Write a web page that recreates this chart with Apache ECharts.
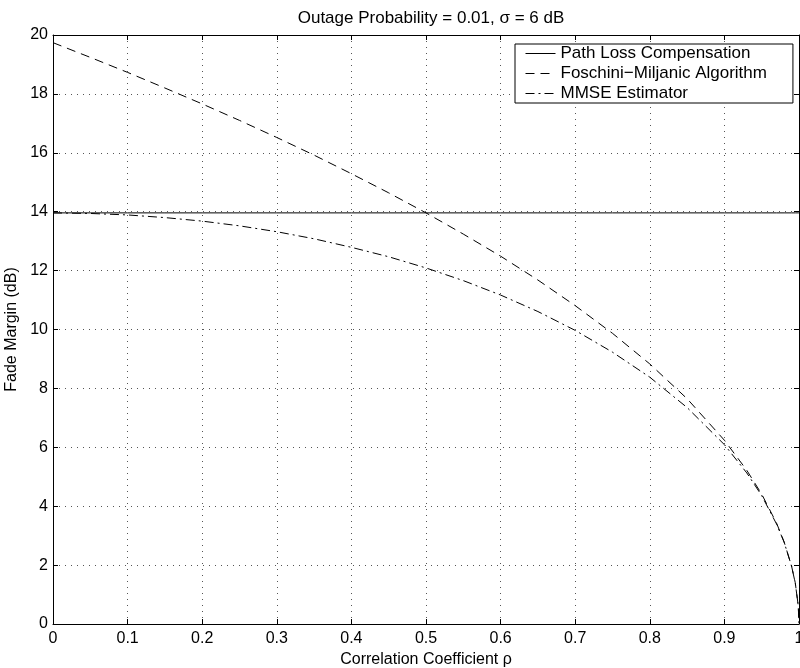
<!DOCTYPE html>
<html>
<head>
<meta charset="UTF-8">
<title>Fade Margin vs Correlation</title>
<script src="https://cdn.jsdelivr.net/npm/echarts@6/dist/echarts.min.js"></script>
<style>
  html, body { margin: 0; padding: 0; background: #fff; }
  #chart { width: 800px; height: 668px; }
</style>
</head>
<body>
<div id="chart"></div>
<script>
// correlation coefficient samples (x)
var rho = [0, 0.05, 0.1, 0.15, 0.2, 0.25, 0.3, 0.35, 0.4, 0.45, 0.5, 0.55, 0.6, 0.65,
           0.7, 0.75, 0.8, 0.85, 0.9, 0.93, 0.95, 0.97, 0.98, 0.99, 0.995, 0.999, 1];
// fade margin values (dB)
var pathLoss = [13.96, 13.96, 13.96, 13.96, 13.96, 13.96, 13.96, 13.96, 13.96, 13.96, 13.96, 13.96, 13.96, 13.96,
                13.96, 13.96, 13.96, 13.96, 13.96, 13.96, 13.96, 13.96, 13.96, 13.96, 13.96, 13.96, 13.96];
var foschini = [19.74, 19.24, 18.73, 18.20, 17.66, 17.10, 16.52, 15.92, 15.29, 14.64, 13.96, 13.24, 12.49, 11.68,
                10.81, 9.87, 8.83, 7.65, 6.24, 5.22, 4.41, 3.42, 2.79, 1.97, 1.40, 0.62, 0];
var mmse = [13.96, 13.94, 13.89, 13.80, 13.68, 13.52, 13.32, 13.08, 12.79, 12.47, 12.09, 11.66, 11.17, 10.61,
            9.97, 9.23, 8.38, 7.35, 6.09, 5.13, 4.36, 3.39, 2.78, 1.97, 1.39, 0.62, 0];
var seriesNames = ['Path Loss Compensation', 'Foschini\u2212Miljanic Algorithm', 'MMSE Estimator'];

var dashed = [9, 6];
var dashDot = [9, 4, 2, 4];

function pairs(ys) {
    var out = [];
    for (var i = 0; i < rho.length; i++) out.push([rho[i], ys[i]]);
    return out;
}

var font = 'Liberation Sans, Arial, Helvetica, sans-serif';
var gridLine = { show: true, lineStyle: { color: '#555', width: 1, type: [1, 5] } };

function xAx(pos, main) {
    return {
        type: 'value', position: pos, min: 0, max: 1, interval: 0.1,
        name: main ? 'Correlation Coefficient \u03c1' : '',
        nameLocation: 'middle', nameGap: 25,
        nameTextStyle: { color: '#000', fontSize: 16, fontFamily: font },
        axisLine: { show: true, onZero: false, lineStyle: { color: '#000', width: 1 } },
        axisTick: { show: true, inside: true, length: 5, lineStyle: { color: '#000' } },
        axisLabel: { show: main, color: '#000', fontSize: 16, fontFamily: font, margin: 7,
                     formatter: function (v) { return String(+v.toFixed(1)); } },
        splitLine: main ? gridLine : { show: false }
    };
}
function yAx(pos, main) {
    return {
        type: 'value', position: pos, min: 0, max: 20, interval: 2,
        name: main ? 'Fade Margin (dB)' : '',
        nameLocation: 'middle', nameGap: 30,
        nameTextStyle: { color: '#000', fontSize: 16, fontFamily: font },
        axisLine: { show: true, onZero: false, lineStyle: { color: '#000', width: 1 } },
        axisTick: { show: true, inside: true, length: 5, lineStyle: { color: '#000' } },
        axisLabel: { show: main, color: '#000', fontSize: 16, fontFamily: font, margin: 5 },
        splitLine: main ? gridLine : { show: false }
    };
}

var chart = echarts.init(document.getElementById('chart'));
var option = {
    animation: false,
    backgroundColor: '#fff',
    title: {
        text: 'Outage Probability = 0.01, \u03c3 = 6 dB',
        left: 426, textAlign: 'center', top: 5,
        textStyle: { color: '#000', fontSize: 17, fontWeight: 'normal', fontFamily: font }
    },
    grid: { left: 53, right: 1, top: 35, bottom: 44, containLabel: false, outerBoundsMode: 'none' },
    legend: {
        orient: 'vertical', left: 515, top: 44,
        padding: [1, 26, 1, 10], itemGap: 3, itemWidth: 30, itemHeight: 14,
        borderColor: '#000', borderWidth: 1, backgroundColor: '#fff',
        itemStyle: { opacity: 0 },
        textStyle: { color: '#000', fontSize: 17, fontFamily: font },
        data: [
            { name: seriesNames[0], lineStyle: { type: 'solid', width: 1 } },
            { name: seriesNames[1], lineStyle: { type: dashed, width: 1 } },
            { name: seriesNames[2], lineStyle: { type: dashDot, width: 1 } }
        ]
    },
    xAxis: [xAx('bottom', true), xAx('top', false)],
    yAxis: [yAx('left', true), yAx('right', false)],
    series: [
        { name: seriesNames[0], type: 'line', data: pairs(pathLoss), symbol: 'none',
          lineStyle: { color: '#000', width: 1, type: 'solid' }, itemStyle: { color: '#000' } },
        { name: seriesNames[1], type: 'line', data: pairs(foschini), symbol: 'none',
          lineStyle: { color: '#000', width: 1, type: dashed }, itemStyle: { color: '#000' } },
        { name: seriesNames[2], type: 'line', data: pairs(mmse), symbol: 'none',
          lineStyle: { color: '#000', width: 1, type: dashDot }, itemStyle: { color: '#000' } }
    ]
};
chart.setOption(option);
</script>
</body>
</html>
